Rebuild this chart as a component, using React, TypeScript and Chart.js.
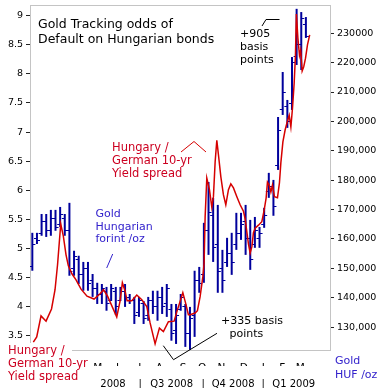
import React, { useEffect, useRef } from 'react';
import { Chart, registerables } from 'chart.js';

Chart.register(...registerables);

const FONT = '"DejaVu Sans", Verdana, sans-serif';
const RED_LINE = '#d60000';
const RED_TEXT = '#cc0020';
const BAR_BLUE = '#00009c';
const BLUE_TEXT = '#3322cc';

// ---- Gold in Hungarian forint per ounce, weekly OHLC (week index 0..59) ----
const goldOpen = [150500,160000,162000,166000,163000,167000,165000,167000,163000,150000,153000,148000,150000,146000,143000,141000,142000,139000,142000,139000,142000,140000,139000,135000,138000,134000,139000,137000,140000,138000,136000,129000,136000,137000,128000,134000,146000,148000,163000,168000,158000,150000,152000,155000,158000,162000,166000,160000,158000,160000,165000,176000,178000,185000,204000,205000,206000,222000,226000,233000];
const goldHigh = [162100,162100,168500,168500,169900,169900,170900,168500,172300,156000,154300,152200,152200,148100,145100,144700,143700,144700,143700,143700,144700,141300,140300,140300,138900,140300,142400,142400,143700,144700,137900,137900,141300,137900,136900,149200,150500,165500,179400,174000,171600,156300,160400,162100,168900,168900,171600,166500,167500,164100,170600,182500,180100,201500,216800,207300,221900,238300,237200,235500];
const goldLow = [149200,158300,161100,160700,161100,162800,164100,161100,147500,147500,144700,142400,142400,140300,137900,137900,135600,138900,134200,138900,136900,137900,131100,133500,131100,132200,134500,132200,134500,133500,125400,124300,135600,123300,122300,126700,141700,145100,154600,152200,141700,141700,150500,147800,156300,159700,154600,149500,157000,157000,163800,174000,167900,183500,202200,197800,203900,219200,217500,228400];
const goldClose = [158000,159500,166000,163000,167000,164000,168500,163000,149000,154000,148000,150000,145000,143000,141000,143000,138000,143000,137000,142000,140000,139000,134000,139000,133000,139000,137000,140000,137000,143000,128000,134000,140000,128000,133000,146000,145000,163000,169000,157000,149000,146000,155000,152000,162000,165000,160000,153000,163000,162000,168000,178000,171000,197000,210000,200000,220000,226000,235000,229000];

// ---- Hungary / German 10-yr yield spread (percentage points), time in weeks ----
const spreadWeek = [0.22,0.95,1.88,2.96,4.14,4.90,5.44,6.13,6.69,7.27,7.77,8.57,9.43,10.51,11.80,13.31,14.61,15.36,16.23,18.21,18.93,19.42,20.00,20.44,21.45,22.53,23.61,24.69,25.40,26.48,27.41,28.27,29.35,30.58,31.16,32.46,33.06,33.66,34.03,35.11,35.61,36.19,36.77,37.05,37.27,37.63,38.20,38.71,39.06,39.43,39.79,40.14,40.66,41.22,41.73,42.30,42.81,43.38,44.11,44.82,45.53,45.90,46.27,46.61,46.98,47.35,47.69,48.06,48.77,49.50,50.00,50.43,50.71,51.08,51.45,51.79,52.22,52.87,53.30,53.60,54.04,54.53,55.03,55.40,55.76,56.11,56.47,56.75,56.95,57.27,57.62,57.88,58.20,58.53,58.92,59.34,59.82];
const spreadValue = [3.39,3.48,3.84,3.75,3.96,4.29,4.72,5.42,5.21,4.89,4.70,4.56,4.46,4.30,4.18,4.13,4.22,4.29,4.18,3.82,4.10,4.41,4.27,4.10,4.10,4.20,4.12,4.00,3.72,3.36,3.63,3.57,3.74,3.75,3.91,4.24,4.06,3.86,3.86,3.89,3.93,4.17,4.51,4.75,5.54,6.21,6.01,5.71,5.89,6.49,6.86,6.61,6.23,5.92,5.75,6.01,6.11,6.04,5.89,5.75,5.64,5.51,5.28,5.08,4.92,5.03,5.27,5.35,5.40,5.46,5.66,5.87,6.14,6.09,5.97,6.09,5.89,5.87,6.13,6.47,6.83,7.04,7.19,7.29,7.09,7.41,7.84,8.32,9.03,8.62,8.32,8.41,8.05,8.12,8.27,8.50,8.67];

// ---- axes ----
const spreadTicks = [3.5,4,4.5,5,5.5,6,6.5,7,7.5,8,8.5,9];
const spreadTickLabels = ['3.5','4','4.5','5','5.5','6','6.5','7','7.5','8','8.5','9'];
const spreadMin = 3.237;
const spreadMax = 9.184;
const goldTicks = [130000,140000,150000,160000,170000,180000,190000,200000,210000,220000,230000];
const goldTickLabels = ['130,000','140,000','150,000','160,000','170,000','180,000','190,000','200,000','210,000','220,000','230000'];
const goldMin = 121900;
const goldMax = 239600;
const weekMin = -0.5;
const weekMax = 64.2;
const monthTickWeeks = [14.1,18.4,23.2,27.4,32.5,36.6,40.8,45.6,49.8,53.9,57.8];
const monthLabels = ['M','J','J','A','S','O','N','D','J','F','M'];
const quarterTickWeeks = [17.4,23.24,30.04,36.84,43.31,49.78,56.37];
const quarterLabels = ['2008','|','Q3 2008','|','Q4 2008','|','Q1 2009'];

function tickImage(side: 'open' | 'close'): HTMLCanvasElement {
  const c = document.createElement('canvas');
  c.width = 8;
  c.height = 1;
  const ctx = c.getContext('2d')!;
  ctx.fillStyle = BAR_BLUE;
  if (side === 'open') ctx.fillRect(1, 0, 3, 1);
  else ctx.fillRect(4, 0, 3, 1);
  return c;
}

const framePlugin = {
  id: 'frame',
  beforeDatasetsDraw(chart: any) {
    const { ctx, chartArea: a } = chart;
    ctx.save();
    ctx.strokeStyle = '#c4c4c4';
    ctx.lineWidth = 1;
    ctx.strokeRect(a.left + 0.5, a.top + 0.5, a.right - a.left, a.bottom - a.top - 1);
    ctx.restore();
  },
};

const notesPlugin = {
  id: 'notes',
  afterDraw(chart: any) {
    const ctx = chart.ctx as CanvasRenderingContext2D;
    ctx.save();
    const text = (lines: string[], x: number, y: number, color: string, size: number, lh: number) => {
      ctx.fillStyle = color;
      ctx.font = `${size}px ${FONT}`;
      ctx.textAlign = 'left';
      ctx.textBaseline = 'middle';
      lines.forEach((l, i) => ctx.fillText(l, x, y + i * lh));
    };
    const line = (pts: number[][], color: string) => {
      ctx.strokeStyle = color;
      ctx.lineWidth = 1;
      ctx.beginPath();
      pts.forEach((p, i) => (i ? ctx.lineTo(p[0], p[1]) : ctx.moveTo(p[0], p[1])));
      ctx.stroke();
    };
    text(['Gold Tracking odds of', 'Default on Hungarian bonds'], 38, 25, '#000', 12.5, 14.3);
    text(['Hungary /', 'German 10-yr', 'Yield spread'], 112, 148, RED_TEXT, 11.5, 13);
    line([[181, 152], [194, 141.5], [206, 152]], RED_LINE);
    text(['Gold', 'Hungarian', 'forint /oz'], 95.5, 214, BLUE_TEXT, 11, 12.8);
    line([[106.7, 268], [112.7, 254]], BLUE_TEXT);
    text(['+905', 'basis', 'points'], 240, 34, '#000', 11, 13);
    line([[262, 26], [266, 19.5], [279.5, 19.5]], '#000');
    text(['+335 basis'], 221, 321, '#000', 11, 13);
    text(['points'], 229.5, 334, '#000', 11, 13);
    line([[163.3, 345.7], [173.5, 359.7], [217, 333.3]], '#000');
    ctx.fillStyle = '#fff';
    ctx.fillRect(0, 343, 72, 45);
    text(['Hungary /', 'German 10-yr', 'Yield spread'], 8, 351.5, RED_TEXT, 11.5, 12.8);
    text(['Gold', 'HUF /oz'], 335, 361.5, BLUE_TEXT, 11, 13.2);
    ctx.restore();
  },
};

export default function App() {
  const ref = useRef<HTMLCanvasElement>(null);
  useEffect(() => {
    if (!ref.current) return;
    Chart.defaults.font.family = FONT;
    const openImg = tickImage('open');
    const closeImg = tickImage('close');
    const idx = goldHigh.map((_, i) => i);
    const chart = new Chart(ref.current, {
      type: 'bar',
      data: {
        datasets: [
          {
            type: 'line',
            label: 'Spread',
            data: spreadWeek.map((w, i) => ({ x: w, y: spreadValue[i] })),
            yAxisID: 'y',
            xAxisID: 'x',
            borderColor: RED_LINE,
            borderWidth: 1.5,
            pointRadius: 0,
            tension: 0,
            fill: false,
            order: 0,
          } as any,
          {
            type: 'bar',
            label: 'Gold range',
            data: idx.map((i) => ({ x: i, y: [goldLow[i], goldHigh[i]] })),
            yAxisID: 'y2',
            xAxisID: 'x',
            backgroundColor: BAR_BLUE,
            borderWidth: 0,
            barThickness: 2,
            maxBarThickness: 2,
            categoryPercentage: 1,
            barPercentage: 0.43,
            inflateAmount: 0,
            order: 2,
          } as any,
          {
            type: 'scatter',
            label: 'Gold open',
            data: idx.map((i) => ({ x: i, y: goldOpen[i] })),
            yAxisID: 'y2',
            xAxisID: 'x',
            pointStyle: openImg,
            pointRadius: 3,
            showLine: false,
            order: 1,
          } as any,
          {
            type: 'scatter',
            label: 'Gold close',
            data: idx.map((i) => ({ x: i, y: goldClose[i] })),
            yAxisID: 'y2',
            xAxisID: 'x',
            pointStyle: closeImg,
            pointRadius: 3,
            showLine: false,
            order: 1,
          } as any,
        ],
      },
      options: {
        responsive: false,
        devicePixelRatio: 1,
        animation: false,
        layout: { padding: { top: 5, left: 0, right: 0, bottom: 0 } },
        plugins: { legend: { display: false }, tooltip: { enabled: false } },
        events: [],
        datasets: { bar: { barThickness: 2, maxBarThickness: 2 } },
        scales: {
          x: {
            type: 'linear',
            position: 'bottom',
            min: weekMin,
            max: weekMax,
            offset: false,
            weight: 0,
            grid: { display: false, offset: false },
            border: { display: false },
            afterBuildTicks: (s: any) => { s.ticks = monthTickWeeks.map((v) => ({ value: v })); },
            afterFit: (s: any) => { s.height = 15; s.paddingLeft = 0; s.paddingRight = 0; },
            ticks: {
              autoSkip: false,
              maxRotation: 0,
              padding: 3,
              color: '#000',
              font: { size: 10.5, family: FONT },
              callback: (_v: any, i: number) => monthLabels[i],
            },
          },
          x2: {
            type: 'linear',
            position: 'bottom',
            min: weekMin,
            max: weekMax,
            offset: false,
            weight: 1,
            grid: { display: false, offset: false },
            border: { display: false },
            afterBuildTicks: (s: any) => { s.ticks = quarterTickWeeks.map((v) => ({ value: v })); },
            afterFit: (s: any) => { s.height = 22; s.paddingLeft = 0; s.paddingRight = 0; },
            ticks: {
              autoSkip: false,
              maxRotation: 0,
              padding: 4,
              color: '#000',
              font: { size: 10, family: FONT },
              callback: (_v: any, i: number) => quarterLabels[i],
            },
          },
          y: {
            type: 'linear',
            position: 'left',
            min: spreadMin,
            max: spreadMax,
            grid: { drawOnChartArea: false, drawTicks: true, tickLength: 4, tickColor: '#222' },
            border: { display: false },
            afterBuildTicks: (s: any) => { s.ticks = spreadTicks.map((v) => ({ value: v })); },
            afterFit: (s: any) => { s.width = 30; s.paddingTop = 0; s.paddingBottom = 0; },
            ticks: {
              padding: 3,
              color: '#000',
              font: { size: 9.5, family: FONT },
              callback: (_v: any, i: number) => spreadTickLabels[i],
            },
          },
          y2: {
            type: 'linear',
            position: 'right',
            min: goldMin,
            max: goldMax,
            grid: { drawOnChartArea: false, drawTicks: true, tickLength: 4, tickColor: '#222' },
            border: { display: false },
            afterBuildTicks: (s: any) => { s.ticks = goldTicks.map((v) => ({ value: v })); },
            afterFit: (s: any) => { s.width = 54; s.paddingTop = 0; s.paddingBottom = 0; },
            ticks: {
              padding: 3,
              color: '#000',
              font: { size: 9.5, family: FONT },
              callback: (_v: any, i: number) => goldTickLabels[i],
            },
          },
        },
      } as any,
      plugins: [framePlugin, notesPlugin],
    });
    return () => chart.destroy();
  }, []);
  return (
    <div style={{ position: 'fixed', left: 0, top: 0, width: 384, height: 388, background: '#fff' }}>
      <canvas ref={ref} width={384} height={388} style={{ display: 'block', width: 384, height: 388 }} />
    </div>
  );
}
